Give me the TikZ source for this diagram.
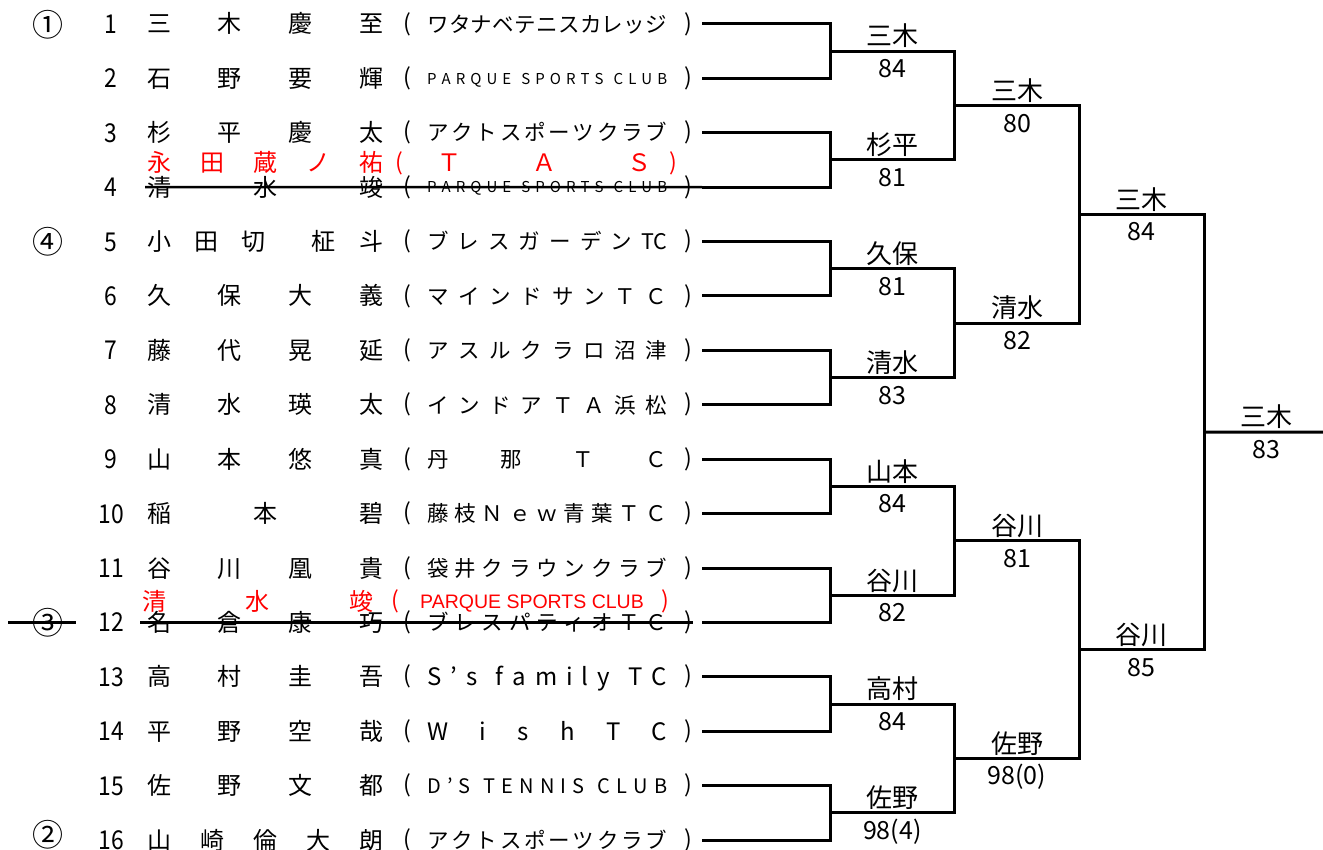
\documentclass[tikz,border=0pt]{standalone}
\usepackage{fontspec}
\setmainfont{Noto Sans CJK JP}
\newfontfamily\narrowdigits{Noto Sans CJK JP}[FakeStretch=0.88]
\newfontfamily\arialish{Liberation Sans}
\usetikzlibrary{positioning}

% spread the items of #2 over a box of width #1 (Excel style "distributed")
\ExplSyntaxOn
\tl_new:N \l_spread_tl
\seq_new:N \l_spread_seq
\NewDocumentCommand \spreadbox { m m }
  {
    \tl_set:No \l_spread_tl {#2}
    \seq_clear:N \l_spread_seq
    \tl_map_inline:Nn \l_spread_tl { \seq_put_right:Nn \l_spread_seq {##1} }
    \makebox[#1][s]{ \seq_use:Nn \l_spread_seq { \hfill } }
  }
\ExplSyntaxOff

\tikzset{
    bracket/.style={
           line width=3pt,
           },
    strikeout/.style={
           line width=2.6pt,
           },
    seed/.style={
           inner sep=0pt,
           font=\fontsize{31}{31}\selectfont,
           },
    entryno/.style={
           inner sep=0pt,
           font=\narrowdigits\fontsize{26}{26}\selectfont,
           text height=19pt, text depth=0pt,
           },
    player/.style={
           anchor=west, inner sep=0pt,
           font=\fontsize{24}{24}\selectfont,
           text height=21pt, text depth=3pt,
           },
    paren/.style={
           inner sep=0pt,
           font=\fontsize{23}{23}\selectfont,
           },
    clubja/.style={
           anchor=west, inner sep=0pt,
           font=\fontsize{21.5}{22}\selectfont,
           text height=19pt, text depth=2.6pt,
           },
    clubsmall/.style={
           anchor=west, inner sep=0pt,
           font=\fontsize{15}{15}\selectfont,
           text height=13.2pt, text depth=1.8pt,
           },
    clublatin/.style={
           anchor=west, inner sep=0pt,
           font=\fontsize{24}{24}\selectfont,
           text height=21pt, text depth=3pt,
           },
    clubcaps/.style={
           anchor=west, inner sep=0pt,
           font=\fontsize{20}{20}\selectfont,
           text height=17.6pt, text depth=2.4pt,
           },
    winner/.style={
           anchor=south, inner sep=0pt,
           font=\fontsize{26}{26}\selectfont,
           text height=23pt, text depth=3pt,
           },
    score/.style={
           anchor=north, inner sep=0pt,
           font=\fontsize{25}{25}\selectfont,
           text height=18.3pt, text depth=2pt,
           },
    swap/.style={
           text=red,
           },
}

\begin{document}
\begin{tikzpicture}[x=1pt, y=-1pt]
	\useasboundingbox (0,0) rectangle (1323,850);

	% entrants
	\foreach \i/\nm/\cl/\cf in {
		1/三木慶至/ワタナベテニスカレッジ/clubja,
		2/石野要輝/PARQUE{}SPORTS{}CLUB/clubsmall,
		3/杉平慶太/アクトスポーツクラブ/clubja,
		4/清水竣/PARQUE{}SPORTS{}CLUB/clubsmall,
		5/小田切{}柾斗/ブレスガーデン{TC}/clubja,
		6/久保大義/マインドサンＴＣ/clubja,
		7/藤代晃延/アスルクラロ沼津/clubja,
		8/清水瑛太/インドアＴＡ浜松/clubja,
		9/山本悠真/丹那ＴＣ/clubja,
		10/稲本碧/藤枝Ｎｅｗ青葉ＴＣ/clubja,
		11/谷川凰貴/袋井クラウンクラブ/clubja,
		12/名倉康巧/ブレスパティオＴＣ/clubja,
		13/高村圭吾/S’s{}family{}TC/clublatin,
		14/平野空哉/WishTC/clublatin,
		15/佐野文都/D’S{}TENNIS{}CLUB/clubcaps,
		16/山崎倫大朗/アクトスポーツクラブ/clubja}{
		\pgfmathsetmacro\y{24+54.4*(\i-1)}
		\node[entryno] (no\i) at (111,\y) {\i};
		\node[player] (pl\i) at (147,\y) {\spreadbox{236pt}{\nm}};
		\node[paren] (lp\i) at (407,\y) {(};
		\node[\cf] (cl\i) at (427,\y) {\spreadbox{240pt}{\cl}};
		\node[paren] (rp\i) at (688,\y) {)};
		\coordinate (e\i) at (702,\y);
	}

	% seeds
	\node[seed] (sd1) at (48,25) {①};
	\node[seed] (sd4) at (48,242) {④};
	\node[seed] (sd3) at (48,623) {③};
	\node[seed] (sd2) at (48,835) {②};

	% replacements
	\node[player, swap] (fix4) at (147,163) {\spreadbox{236pt}{永田蔵ノ祐}};
	\node[paren, swap] (fix4l) at (399,163) {(};
	\node[clublatin, swap] (fix4c) at (437,163) {\spreadbox{214pt}{ＴＡＳ}};
	\node[paren, swap] (fix4r) at (673,163) {)};

	\node[player, swap] (fix12) at (142,601) {\spreadbox{231pt}{清水竣}};
	\node[paren, swap] (fix12l) at (395,601) {(};
	\node[swap, anchor=west, inner sep=0pt, font=\arialish\fontsize{19.5}{19.5}\selectfont] (fix12c) at (420,604) {PARQUE SPORTS CLUB};
	\node[paren, swap] (fix12r) at (665,601) {)};

	\coordinate (k4a) at (145,187.2);
	\draw[strikeout] (k4a) -- (e4);
	\coordinate (k12a) at (140,622.4);
	\coordinate (k12b) at (693,622.4);
	\coordinate (k12c) at (8,622.4);
	\coordinate (k12d) at (76,622.4);
	\draw[strikeout] (k12a) -- (k12b);
	\draw[strikeout] (k12c) -- (k12d);

	% match points
	\foreach \r in {1,...,4}{
		\pgfmathtruncatemacro\nmatch{2^(4-\r)}
		\foreach \k in {1,...,\nmatch}{
			\coordinate (r\r-\k) at ({830+124.7*(\r-1)}, {24+54.4*((\k-1)*2^\r+(2^\r-1)/2)});
		}
	}

	% brackets
	\foreach \k in {1,...,8}{
		\pgfmathtruncatemacro\a{2*\k-1}
		\pgfmathtruncatemacro\b{2*\k}
		\draw[bracket] (e\a) -| (r1-\k) |- (e\b);
	}
	\foreach \r in {2,3,4}{
		\pgfmathtruncatemacro\p{\r-1}
		\pgfmathtruncatemacro\nmatch{2^(4-\r)}
		\foreach \k in {1,...,\nmatch}{
			\pgfmathtruncatemacro\a{2*\k-1}
			\pgfmathtruncatemacro\b{2*\k}
			\draw[bracket] (r\p-\a) -| (r\r-\k) |- (r\p-\b);
		}
	}
	\coordinate (champ) at (1323,432);
	\draw[bracket] (r4-1) -- (champ);

	% winners and scores
	\foreach \r/\k/\who/\pts in {
		1/1/三木/84, 1/2/杉平/81, 1/3/久保/81, 1/4/清水/83,
		1/5/山本/84, 1/6/谷川/82, 1/7/高村/84, 1/8/佐野/98(4),
		2/1/三木/80, 2/2/清水/82, 2/3/谷川/81, 2/4/佐野/98(0),
		3/1/三木/84, 3/2/谷川/85,
		4/1/三木/83}{
		\path (r\r-\k) ++(62.3,-2) node[winner] (w\r-\k) {\who};
		\path (r\r-\k) ++(62.3,8) node[score] (s\r-\k) {\pts};
	}

\end{tikzpicture}
\end{document}
